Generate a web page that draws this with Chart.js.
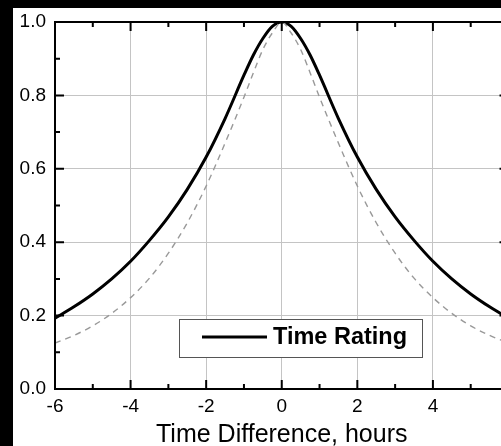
<!DOCTYPE html>
<html><head><meta charset="utf-8">
<script src="https://cdn.jsdelivr.net/npm/chart.js@4.4.1/dist/chart.umd.min.js"></script>
<style>
html,body{margin:0;padding:0;background:#000;width:501px;height:446px;overflow:hidden;}
#frame{position:absolute;left:13px;top:8px;width:488px;height:438px;background:#fff;overflow:hidden;}
canvas{position:absolute;left:0;top:0;}
</style></head><body>
<div id="frame"><canvas id="c" width="520" height="438" style="width:520px;height:438px"></canvas></div>
<script>
const timeDiff = [-6,-5.5,-5,-4.5,-4,-3.5,-3,-2.5,-2,-1.5,-1,-0.75,-0.5,-0.25,0,0.25,0.5,0.75,1,1.5,2,2.5,3,3.5,4,4.5,5,5.5,6];
const timeRating = [0.193,0.224,0.259,0.300,0.348,0.405,0.469,0.544,0.632,0.737,0.855,0.91,0.955,0.988,1.0,0.988,0.955,0.91,0.855,0.737,0.632,0.544,0.469,0.405,0.348,0.300,0.259,0.224,0.193];
const referenceCurve = [0.125,0.146,0.172,0.206,0.249,0.302,0.370,0.453,0.553,0.670,0.795,0.862,0.925,0.970,1.0,0.970,0.925,0.862,0.795,0.670,0.553,0.453,0.370,0.302,0.249,0.206,0.172,0.146,0.125];
const xMajorTicks = [-6,-4,-2,0,2,4,6];
const xMinorTicks = [-5,-3,-1,1,3,5];
const yMajorTicks = [0,0.2,0.4,0.6,0.8,1.0];
const yMinorTicks = [0.1,0.3,0.5,0.7,0.9];
const seriesLabel = 'Time Rating';
const xTitle = 'Time Difference, hours';

const FONT = '"Liberation Sans", Arial, sans-serif';

const framePlugin = {
  id: 'frameTicksLegend',
  afterDatasetsDraw(chart) {
    const {ctx, chartArea: a, scales: {x, y}} = chart;
    ctx.save();
    ctx.strokeStyle = '#000';
    ctx.lineWidth = 2;
    ctx.beginPath();
    ctx.rect(a.left, a.top, a.right - a.left, a.bottom - a.top);
    ctx.stroke();
    const xt = (vals, len) => vals.forEach(v => {
      const px = x.getPixelForValue(v);
      ctx.beginPath();
      ctx.moveTo(px, a.bottom); ctx.lineTo(px, a.bottom - len);
      ctx.moveTo(px, a.top); ctx.lineTo(px, a.top + len);
      ctx.stroke();
    });
    const yt = (vals, len) => vals.forEach(v => {
      const py = y.getPixelForValue(v);
      ctx.beginPath();
      ctx.moveTo(a.left, py); ctx.lineTo(a.left + len, py);
      ctx.moveTo(a.right, py); ctx.lineTo(a.right - len, py);
      ctx.stroke();
    });
    xt(xMajorTicks, 9); xt(xMinorTicks, 5);
    yt(yMajorTicks, 9); yt(yMinorTicks, 5);

    // legend box inside plot
    const bx = a.left + 124, bw = 243, bh = 38, by = a.bottom - 70;
    ctx.fillStyle = '#fff';
    ctx.fillRect(bx, by, bw, bh);
    ctx.strokeStyle = '#555';
    ctx.lineWidth = 1;
    ctx.strokeRect(bx + 0.5, by + 0.5, bw, bh);
    const cy = by + bh / 2;
    const ds = chart.data.datasets[1];
    ctx.strokeStyle = ds.borderColor;
    ctx.lineWidth = 3;
    ctx.beginPath();
    ctx.moveTo(bx + 23, cy - 1); ctx.lineTo(bx + 88, cy - 1);
    ctx.stroke();
    ctx.fillStyle = '#000';
    ctx.font = 'bold 23.5px ' + FONT;
    ctx.textBaseline = 'middle';
    ctx.textAlign = 'left';
    ctx.fillText(ds.label, bx + 94, cy);
    ctx.restore();
  }
};

const pts = arr => timeDiff.map((t, i) => ({x: t, y: arr[i]}));

new Chart(document.getElementById('c'), {
  type: 'line',
  data: {
    datasets: [
      {label: 'reference', data: pts(referenceCurve), borderColor: '#999', borderWidth: 1.4, borderDash: [6, 5], pointRadius: 0, cubicInterpolationMode: 'monotone', fill: false},
      {label: seriesLabel, data: pts(timeRating), borderColor: '#000', borderWidth: 3, pointRadius: 0, cubicInterpolationMode: 'monotone', fill: false}
    ]
  },
  options: {
    responsive: false,
    animation: false,
    devicePixelRatio: 1,
    layout: {padding: {left: 0, top: 14, right: 24.5, bottom: 0}},
    plugins: {legend: {display: false}, tooltip: {enabled: false}},
    scales: {
      x: {
        type: 'linear', min: -6, max: 6,
        afterBuildTicks: s => { s.ticks = xMajorTicks.map(v => ({value: v})); },
        afterFit: s => { s.height = 57; s.paddingLeft = 0; s.paddingRight = 0; },
        border: {display: false},
        grid: {color: c => (c.tick && (c.tick.value === -6 || c.tick.value === 6)) ? 'rgba(0,0,0,0)' : '#c4c4c4', lineWidth: 1, drawTicks: false},
        ticks: {color: '#000', font: {family: FONT, size: 19}, padding: 6, maxRotation: 0, autoSkip: false, callback: v => String(v)},
        title: {display: true, text: xTitle, color: '#000', font: {family: FONT, size: 25, lineHeight: 0.88}, padding: {top: 0, bottom: 0}}
      },
      y: {
        type: 'linear', min: 0, max: 1,
        afterBuildTicks: s => { s.ticks = yMajorTicks.map(v => ({value: v})); },
        afterFit: s => { s.width = 42; s.paddingTop = 0; s.paddingBottom = 0; },
        border: {display: false},
        grid: {color: c => (c.tick && (c.tick.value === 0 || c.tick.value === 1)) ? 'rgba(0,0,0,0)' : '#c4c4c4', lineWidth: 1, drawTicks: false},
        ticks: {color: '#000', font: {family: FONT, size: 19}, padding: 9, autoSkip: false, callback: v => Number(v).toFixed(1)}
      }
    }
  },
  plugins: [framePlugin]
});
</script>
</body></html>
